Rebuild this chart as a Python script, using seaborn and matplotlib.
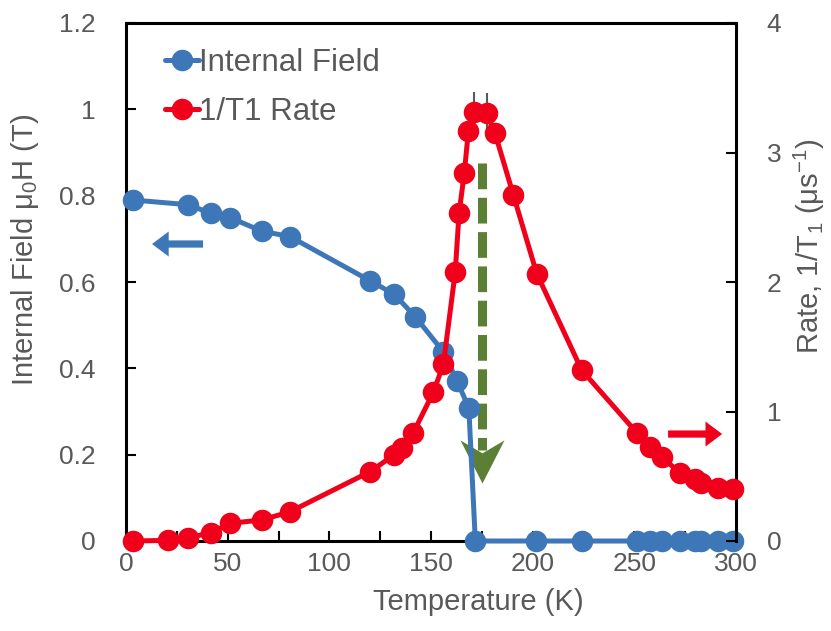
import numpy as np
import matplotlib
matplotlib.use("Agg")
import matplotlib.pyplot as plt
import seaborn as sns
from matplotlib.path import Path
from matplotlib.lines import Line2D
from matplotlib.ticker import MultipleLocator, FuncFormatter

# Internal field (left axis)
temp_field = [3.3, 30.7, 41.7, 51.2, 66.7, 80.7, 120.0, 131.8, 142.2, 156.1,
              162.8, 168.6, 171.8, 201.7, 224.1, 251.2, 257.7, 263.4, 272.5,
              279.9, 282.6, 291.3, 298.7]
field = [0.790, 0.779, 0.759, 0.749, 0.718, 0.705, 0.603, 0.572, 0.520, 0.438,
         0.371, 0.308, 0.0, 0.0, 0.0, 0.0, 0.0, 0.0, 0.0,
         0.0, 0.0, 0.0, 0.0]

# Relaxation rate 1/T1 (right axis)
temp_rate = [3.3, 20.8, 30.7, 41.7, 51.2, 66.7, 80.7, 120.0, 131.8, 135.6,
             141.3, 151.2, 156.1, 161.9, 163.8, 166.4, 168.4, 171.2, 177.4,
             181.5, 190.5, 202.0, 224.1, 251.2, 257.7, 263.4, 272.5, 279.9,
             282.6, 291.3, 298.7]
rate = [0.0, 0.005, 0.025, 0.064, 0.137, 0.162, 0.226, 0.535, 0.664, 0.720,
        0.836, 1.150, 1.365, 2.075, 2.531, 2.844, 3.168, 3.315, 3.307,
        3.148, 2.672, 2.065, 1.320, 0.836, 0.728, 0.646, 0.528, 0.478,
        0.448, 0.407, 0.399]
rate_err = [0, 0, 0, 0, 0, 0, 0, 0, 0, 0,
            0, 0, 0, 0, 0, 0, 0, 0.15, 0.15,
            0, 0, 0, 0, 0, 0, 0, 0, 0,
            0, 0, 0]

# Ordering temperature marked by the dashed arrow
t_transition = 175.0

x_ticks = [0, 50, 100, 150, 200, 250, 300]
field_ticks = [0, 0.2, 0.4, 0.6, 0.8, 1.0, 1.2]
rate_ticks = [0, 1, 2, 3, 4]

BLUE = "#3E77B7"
RED = "#F0001A"
GREEN = "#5B7F35"
TEXT = "#595959"

sns.set_theme(style="white")
plt.rcParams["font.family"] = ["Liberation Sans", "DejaVu Sans"]
plt.rcParams["mathtext.fontset"] = "custom"
plt.rcParams["mathtext.rm"] = "Liberation Sans"
plt.rcParams["mathtext.it"] = "Liberation Sans:italic"
plt.rcParams["mathtext.default"] = "regular"

fig = plt.figure(figsize=(8.31, 6.31), dpi=100)
ax = fig.add_axes([126 / 831, 1 - 541 / 631, 610 / 831, 518 / 631])
ax2 = ax.twinx()

line_kw = dict(marker="o", markersize=15.5, linewidth=3.6, markeredgewidth=0)

sns.lineplot(x=temp_field, y=field, color=BLUE, ax=ax, sort=False, **line_kw)
ax2.errorbar(temp_rate, rate, yerr=rate_err, fmt="none", ecolor=TEXT,
             elinewidth=1.5, zorder=2)
sns.lineplot(x=temp_rate, y=rate, color=RED, ax=ax2, sort=False, **line_kw)

for a in (ax, ax2):
    for ln in a.lines:
        ln.set_clip_on(False)
        ln.set_zorder(3)

ax.set_xlim(0, 300)
ax.set_ylim(0, 1.2)
ax2.set_ylim(0, 4)

# ticks
ax.xaxis.set_major_locator(plt.FixedLocator(x_ticks))
ax.xaxis.set_minor_locator(MultipleLocator(25))
ax.set_yticks(field_ticks)
ax2.set_yticks(rate_ticks)
fmt = FuncFormatter(lambda v, p: f"{v:g}")
ax.yaxis.set_major_formatter(fmt)
ax2.yaxis.set_major_formatter(fmt)
ax.xaxis.set_major_formatter(fmt)

tick_kw = dict(direction="in", length=7, width=1.5, colors="black",
               labelcolor=TEXT, labelsize=19)
ax.tick_params(axis="x", which="both", bottom=True, top=False, pad=8, **tick_kw)
ax.tick_params(axis="y", which="both", left=True, right=False, pad=22, **tick_kw)
ax2.tick_params(axis="y", which="both", right=True, left=False, pad=22, **tick_kw)

for s in ax.spines.values():
    s.set_color("black")
    s.set_linewidth(2.2)
ax.spines["right"].set_visible(False)
for name, s in ax2.spines.items():
    s.set_visible(name == "right")
    s.set_color("black")
    s.set_linewidth(2.2)

ax.set_xlabel("Temperature (K)", fontsize=21, color=TEXT)
ax.xaxis.set_label_coords(0.577, -0.091)
ax.set_ylabel("Internal Field μ$_0$H (T)", fontsize=21, color=TEXT)
ax.yaxis.set_label_coords(-0.139, 0.562)
ax2.set_ylabel("Rate, 1/T$_1$ (μs$^{-1}$)", fontsize=21, color=TEXT)
ax2.yaxis.set_label_coords(1.092, 0.569)

# direction arrows pointing to each series' axis
ax.annotate("", xy=(12.8, 0.688), xytext=(37.9, 0.688),
            arrowprops=dict(arrowstyle="simple,head_length=0.6,head_width=0.9,tail_width=0.26",
                            mutation_scale=20, color=BLUE, lw=0,
                            shrinkA=0, shrinkB=0))
ax2.annotate("", xy=(293.2, 0.826), xytext=(266.6, 0.826),
             arrowprops=dict(arrowstyle="simple,head_length=0.6,head_width=0.9,tail_width=0.26",
                             mutation_scale=20, color=RED, lw=0,
                             shrinkA=0, shrinkB=0))

# dashed arrow at the transition temperature
ax.plot([t_transition, t_transition], [0.876, 0.21], color=GREEN, lw=6.5,
        dashes=(2.85, 0.95), solid_capstyle="butt", dash_capstyle="butt",
        zorder=2)
head = Path([(0, 0), (-0.51, 1.0), (0, 0.7), (0.51, 1.0), (0, 0)],
            [Path.MOVETO, Path.LINETO, Path.LINETO, Path.LINETO, Path.CLOSEPOLY])
ax.plot([t_transition], [0.134], marker=head, markersize=62, color=GREEN,
        markeredgewidth=0, linestyle="none", zorder=2)

# legend
handles = [Line2D([], [], color=BLUE, **line_kw),
           Line2D([], [], color=RED, **line_kw)]
leg = ax2.legend(handles, ["Internal Field", "1/T1 Rate"], loc="upper left",
                 bbox_to_anchor=(0.064, 0.951), frameon=False, fontsize=22.5,
                 handlelength=1.1, handletextpad=0.0, labelspacing=0.58,
                 borderpad=0, borderaxespad=0)
for t in leg.get_texts():
    t.set_color(TEXT)

fig.savefig("out.png", dpi=100)
